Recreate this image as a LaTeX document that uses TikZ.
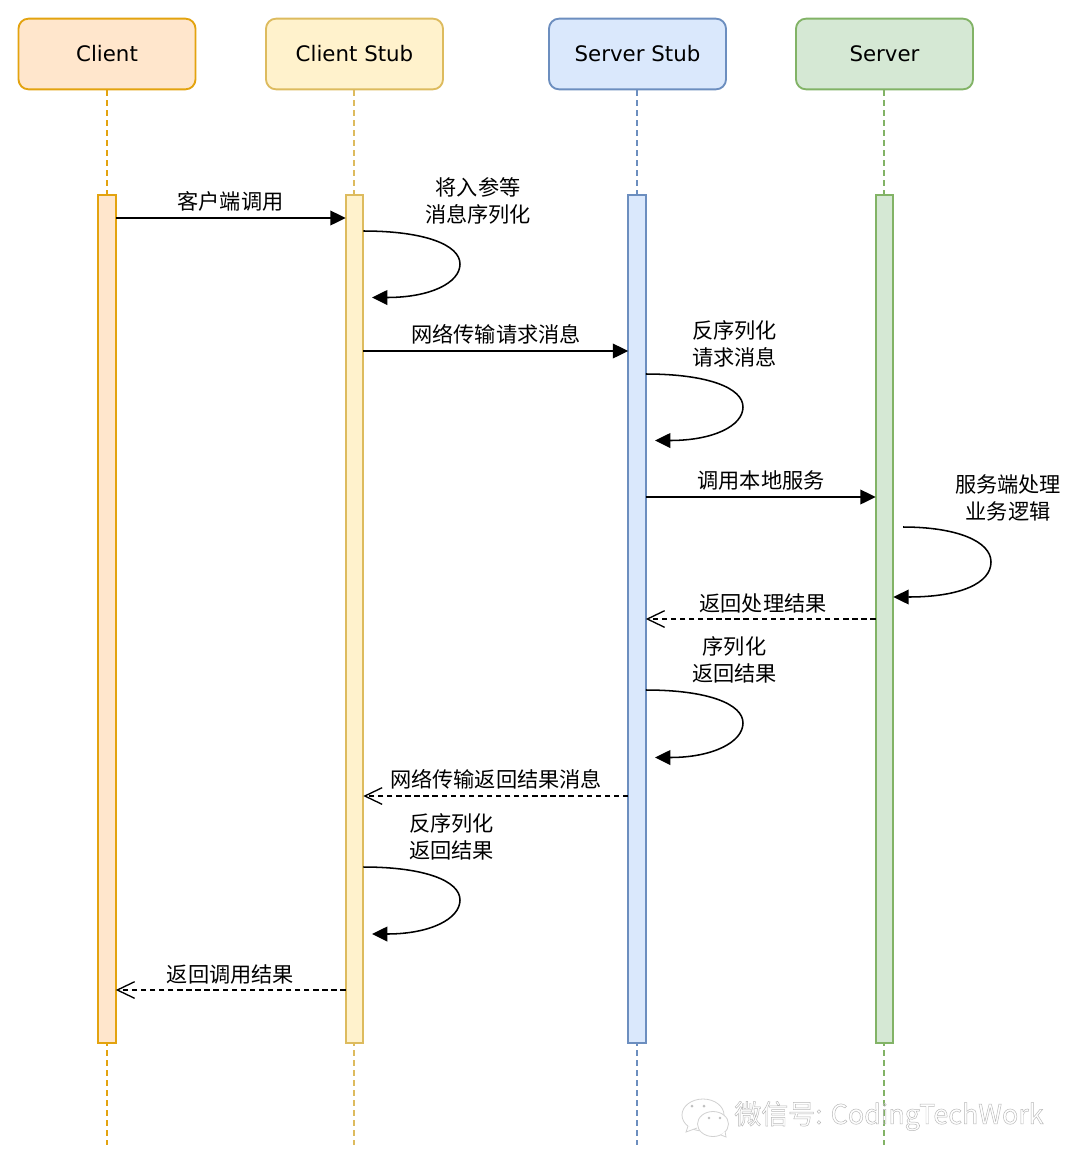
\documentclass[tikz,border=0pt]{standalone}
\usepackage{fontspec}
\usetikzlibrary{arrows.meta}
\setmainfont{DejaVu Sans}
\newfontfamily\cjk{Noto Sans CJK SC}
\definecolor{oF}{HTML}{FFE6CC}\definecolor{oD}{HTML}{E3A30F}
\definecolor{yF}{HTML}{FFF2CC}\definecolor{yD}{HTML}{DDBB5E}
\definecolor{bF}{HTML}{DAE8FC}\definecolor{bD}{HTML}{6C8EBF}
\definecolor{gF}{HTML}{D5E8D4}\definecolor{gD}{HTML}{82B366}
\tikzset{
  x=0.75pt,y=-0.75pt,
  header/.style={rounded corners=7.5pt,line width=1.4pt,minimum width=132.75pt,minimum height=53pt,inner sep=0pt,font=\fontsize{16}{19}\selectfont},
  bar/.style={line width=1.4pt,minimum width=13.2pt,minimum height=636pt,inner sep=0pt,outer sep=0pt},
  life/.style={line width=1.4pt,dash pattern=on 4.5pt off 3pt},
  msg/.style={line width=1.15pt,-{Triangle[length=11.5pt,width=11pt]}},
  ret/.style={line width=1.15pt,dash pattern=on 4pt off 2.8pt,-{Straight Barb[length=13pt,width=12.5pt,line width=1pt]}},
  selfl/.style={line width=1.15pt,-{Triangle[length=11.5pt,width=11pt]}},
  lbl/.style={inner sep=0pt,align=center,font=\cjk\fontsize{15.9}{20.25}\selectfont},
  wmb/.style={draw=black!18,fill=white,line width=0.6pt},
}
\begin{document}
\begin{tikzpicture}
\useasboundingbox (0,0) rectangle (1080,1168);
\fill[white] (0,0) rectangle (1080,1168);
% headers
\node[header,fill=oF,draw=oD] (hC) at (107,54) {\raisebox{0.7pt}{Client}};
\node[header,fill=yF,draw=yD] (hCS) at (354.5,54) {\raisebox{0.7pt}{Client Stub}};
\node[header,fill=bF,draw=bD] (hSS) at (637.5,54) {\raisebox{0.7pt}{Server Stub}};
\node[header,fill=gF,draw=gD] (hS) at (884.5,54) {\raisebox{0.7pt}{Server}};
% lifeline ends
\coordinate (eC) at (107,1145);
\coordinate (eCS) at (354,1145);
\coordinate (eSS) at (637,1145);
\coordinate (eS) at (884,1145);
% lifelines
\draw[life,draw=oD] (hC.south) -- (eC);
\draw[life,draw=yD] (hCS.south -| eCS) -- (eCS);
\draw[life,draw=bD] (hSS.south -| eSS) -- (eSS);
\draw[life,draw=gD] (hS.south -| eS) -- (eS);
% bars
\node[bar,fill=oF,draw=oD] (bC) at (107,619) {};
\node[bar,fill=yF,draw=yD] (bCS) at (354.5,619) {};
\node[bar,fill=bF,draw=bD] (bSS) at (637,619) {};
\node[bar,fill=gF,draw=gD] (bS) at (884.5,619) {};
% messages
\draw[msg] (bC.east |- 0,218) -- (bCS.west |- 0,218);
\draw[msg] (bCS.east |- 0,351) -- (bSS.west |- 0,351);
\draw[msg] (bSS.east |- 0,497) -- (bS.west |- 0,497);
\draw[ret] (bS.west |- 0,619) -- (bSS.east |- 0,619);
\draw[ret] (bSS.west |- 0,796) -- (bCS.east |- 0,796);
\draw[ret] (bCS.west |- 0,990) -- (bC.east |- 0,990);
% self loops
\draw[selfl] (bCS.east |- 0,231) .. controls (425,231) and (460,245) .. (460,264) .. controls (460,283) and (430,297.5) .. (372,297.5);
\draw[selfl] (bSS.east |- 0,374) .. controls (708,374) and (743,388) .. (743,407) .. controls (743,426) and (713,440.5) .. (655,440.5);
\draw[selfl] (903,527) .. controls (956,527) and (991,541) .. (991,562) .. controls (991,583) and (961,597) .. (bS.east |- 0,597);
\draw[selfl] (bSS.east |- 0,690) .. controls (708,690) and (743,704) .. (743,723) .. controls (743,742) and (713,757.5) .. (655,757.5);
\draw[selfl] (bCS.east |- 0,867) .. controls (425,867) and (460,881) .. (460,900) .. controls (460,919) and (430,934) .. (372,934);
% labels
\node[lbl] (l1) at (230.5,201) {客户端调用};
\node[lbl] (l2) at (478,200.5) {将入参等\\消息序列化};
\node[lbl] (l3) at (496,334) {网络传输请求消息};
\node[lbl] (l4) at (734.5,344) {反序列化\\请求消息};
\node[lbl] (l5) at (761,480.5) {调用本地服务};
\node[lbl] (l6) at (1008,497.5) {服务端处理\\业务逻辑};
\node[lbl] (l7) at (763,603) {返回处理结果};
\node[lbl] (l8) at (734.5,660) {序列化\\返回结果};
\node[lbl] (l9) at (496,779.5) {网络传输返回结果消息};
\node[lbl] (l10) at (451.5,836.5) {反序列化\\返回结果};
\node[lbl] (l11) at (230.5,974) {返回调用结果};
% watermark
\draw[wmb] (703,1115) ellipse (21 and 16);
\draw[wmb] (688,1126) -- (686,1132) -- (697,1128);
\draw[wmb] (713,1124) ellipse (15.5 and 12.5);
\draw[wmb] (721,1135) -- (726,1137) -- (725,1131);
\fill[black!25] (692,1106) circle (1.5) (704,1106) circle (1.5) (709,1118) circle (1.3) (720,1118) circle (1.3);
\node[inner sep=0pt,font=\cjk\fontsize{20.2}{25}\selectfont] (wm) at (889,1116) {\special{pdf:code q 1 Tr 0.35 w 0.72 0.72 0.72 RG}微信号: CodingTechWork\special{pdf:code Q}};
\end{tikzpicture}
\end{document}
